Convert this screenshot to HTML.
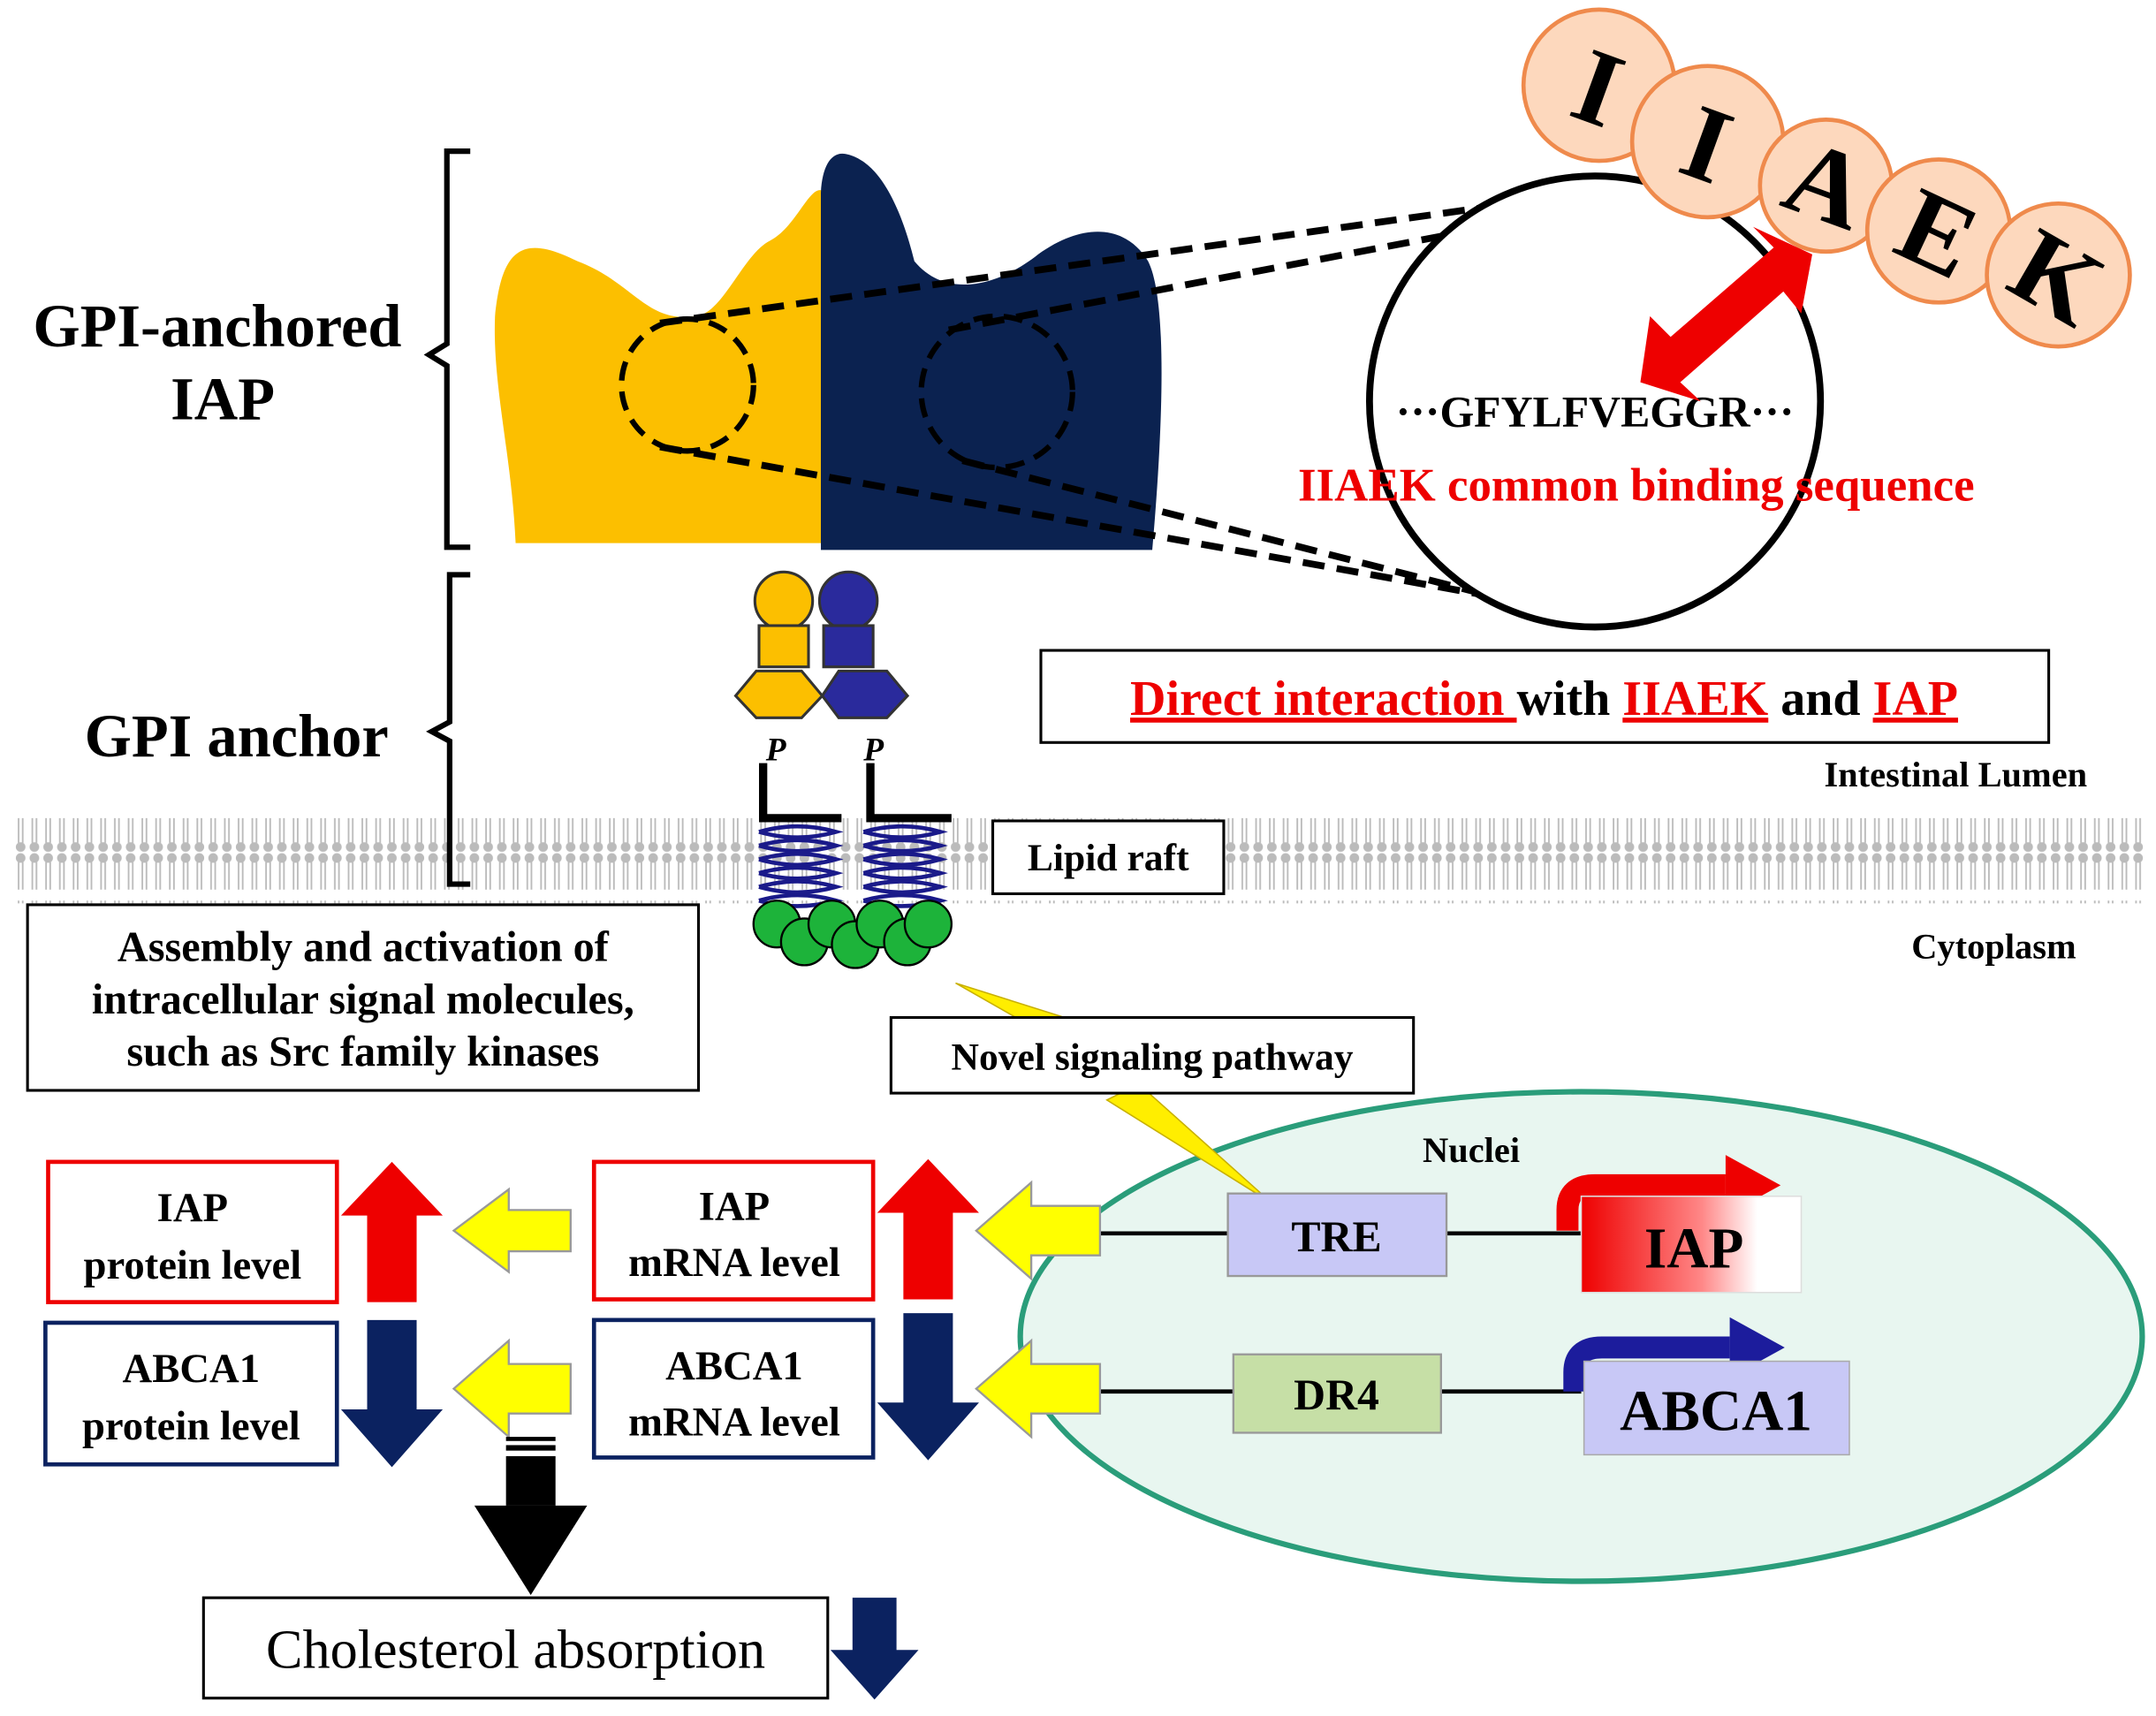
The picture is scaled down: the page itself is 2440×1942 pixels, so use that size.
<!DOCTYPE html>
<html><head><meta charset="utf-8"><style>
html,body{margin:0;padding:0;background:#fff}
svg{display:block}
text{font-family:"Liberation Serif",serif;font-weight:bold}
</style></head><body>
<svg width="2440" height="1942" viewBox="0 0 1568 1248" xmlns="http://www.w3.org/2000/svg">
<defs>
<linearGradient id="rg" x1="0" x2="1"><stop offset="0" stop-color="#e00"/><stop offset="0.55" stop-color="#f88"/><stop offset="0.8" stop-color="#fff"/></linearGradient>
<pattern id="lip" width="10" height="62" patternUnits="userSpaceOnUse">
<circle cx="5" cy="4" r="3.5" fill="#bbb"/><line x1="3.5" y1="7" x2="3.5" y2="27" stroke="#bbb" stroke-width="1.2"/><line x1="6.5" y1="7" x2="6.5" y2="27" stroke="#bbb" stroke-width="1.2"/>
<circle cx="5" cy="58" r="3.5" fill="#bbb"/><line x1="3.5" y1="35" x2="3.5" y2="55" stroke="#bbb" stroke-width="1.2"/><line x1="6.5" y1="35" x2="6.5" y2="55" stroke="#bbb" stroke-width="1.2"/>
</pattern>
</defs>
<rect width="1568" height="1248" fill="#fff"/>

<rect x="10" y="595" width="1550" height="62" fill="url(#lip)"/>

<path d="M342 110 H325 V250 L312 258 L325 266 V398 H342" fill="none" stroke="#000" stroke-width="4"/>
<path d="M342 418 H327 V525 L314 532 L327 539 V643 H342" fill="none" stroke="#000" stroke-width="4"/>
<text x="158" y="252" font-size="44" text-anchor="middle">GPI-anchored</text>
<text x="162" y="305" font-size="44" text-anchor="middle">IAP</text>
<text x="172" y="550" font-size="44" text-anchor="middle">GPI anchor</text>

<path d="M600 395 L600 140 C590 130 580 165 560 175 C540 185 525 230 505 230 C470 235 460 205 420 190 C380 170 365 180 360 230 C358 280 372 330 375 395 Z" fill="#fcbf00"/>
<path d="M597 400 L597 140 C598 120 605 110 615 112 C630 115 650 130 665 190 C690 220 730 205 755 185 C790 160 820 165 835 190 C850 220 845 320 838 400 Z" fill="#0b2250"/>
<circle cx="500" cy="280" r="48" fill="none" stroke="#000" stroke-width="4" stroke-dasharray="14 8"/>
<circle cx="725" cy="285" r="55" fill="none" stroke="#000" stroke-width="4" stroke-dasharray="14 8"/>
<g stroke="#000" stroke-width="5" stroke-dasharray="16 9" fill="none">
<line x1="480" y1="235" x2="1100" y2="148"/><line x1="690" y1="240" x2="1110" y2="160"/>
<line x1="480" y1="325" x2="1120" y2="440"/><line x1="700" y1="335" x2="1130" y2="445"/>
</g>
<circle cx="1160" cy="292" r="164" fill="#fff" stroke="#000" stroke-width="5"/>
<text x="1160" y="310" font-size="32" text-anchor="middle" font-family="Liberation Sans,sans-serif">···GFYLFVEGGR···</text>
<text x="1190" y="364" font-size="34" fill="#e00" text-anchor="middle">IIAEK common binding sequence</text>
<g fill="#e00">
<polygon points="1193,278 1200,230 1215,245 1290,180 1275,165 1318,185 1310,228 1297,212 1222,278 1237,292"/>
</g>

<g fill="#fdd8bd" stroke="#ef8a4c" stroke-width="3">
<circle cx="1163" cy="62" r="55"/><circle cx="1242" cy="103" r="55"/><circle cx="1328" cy="135" r="48"/><circle cx="1410" cy="168" r="52"/><circle cx="1497" cy="200" r="52"/>
</g>
<g font-size="78" text-anchor="middle">
<text x="1163" y="90" transform="rotate(20 1163 62)">I</text>
<text x="1242" y="131" transform="rotate(20 1242 103)">I</text>
<text x="1328" y="160" transform="rotate(20 1328 135)">A</text>
<text x="1410" y="196" transform="rotate(25 1410 168)">E</text>
<text x="1497" y="228" transform="rotate(30 1497 200)">K</text>
</g>

<rect x="757" y="473" width="733" height="67" fill="#fff" stroke="#000" stroke-width="2"/>
<text x="1123" y="520" font-size="36" text-anchor="middle"><tspan fill="#e00" text-decoration="underline">Direct interaction </tspan>with <tspan fill="#e00" text-decoration="underline">IIAEK</tspan> and <tspan fill="#e00" text-decoration="underline">IAP</tspan></text>
<text x="1518" y="572" font-size="26" text-anchor="end">Intestinal Lumen</text>
<text x="1510" y="697" font-size="26" text-anchor="end">Cytoplasm</text>

<g stroke="#333" stroke-width="2">
<circle cx="570" cy="437" r="21" fill="#fcbf00"/><rect x="552" y="455" width="36" height="30" fill="#fcbf00"/>
<polygon points="550,488 583,488 598,506 583,522 550,522 535,506" fill="#fcbf00"/>
<circle cx="617" cy="437" r="21" fill="#2a2a9c"/><rect x="599" y="455" width="36" height="30" fill="#2a2a9c"/>
<polygon points="610,488 645,488 660,506 645,522 610,522 598,506" fill="#2a2a9c"/>
</g>
<text x="557" y="553" font-size="24" font-style="italic" font-weight="normal">P</text>
<text x="628" y="553" font-size="24" font-style="italic" font-weight="normal">P</text>
<path d="M555 555 V595 H612 M633 555 V595 H692" fill="none" stroke="#000" stroke-width="6"/>
<g fill="none" stroke="#1a1a8a" stroke-width="3">
<path d="M552 605 q28 -8 56 0 q-28 8 -56 0 m0 10 q28 -8 56 0 q-28 8 -56 0 m0 10 q28 -8 56 0 q-28 8 -56 0 m0 10 q28 -8 56 0 q-28 8 -56 0 m0 10 q28 -8 56 0 q-28 8 -56 0 m0 10 q28 -8 56 0 q-28 8 -56 0"/>
<path d="M628 605 q28 -8 56 0 q-28 8 -56 0 m0 10 q28 -8 56 0 q-28 8 -56 0 m0 10 q28 -8 56 0 q-28 8 -56 0 m0 10 q28 -8 56 0 q-28 8 -56 0 m0 10 q28 -8 56 0 q-28 8 -56 0 m0 10 q28 -8 56 0 q-28 8 -56 0"/>
</g>
<g fill="#1db33a" stroke="#000" stroke-width="1.5">
<circle cx="565" cy="672" r="17"/><circle cx="585" cy="685" r="17"/><circle cx="605" cy="672" r="17"/><circle cx="622" cy="687" r="17"/><circle cx="640" cy="672" r="17"/><circle cx="660" cy="685" r="17"/><circle cx="675" cy="672" r="17"/>
</g>
<rect x="722" y="597" width="168" height="53" fill="#fff" stroke="#000" stroke-width="2"/>
<text x="806" y="633" font-size="28" text-anchor="middle">Lipid raft</text>

<rect x="20" y="658" width="488" height="135" fill="#fff" stroke="#000" stroke-width="2"/>
<g font-size="31" text-anchor="middle">
<text x="264" y="699">Assembly and activation of</text>
<text x="264" y="737">intracellular signal molecules,</text>
<text x="264" y="775">such as Src family kinases</text>
</g>

<ellipse cx="1150" cy="972" rx="408" ry="178" fill="#e8f6f0" stroke="#2a9d7a" stroke-width="4"/>
<text x="1070" y="845" font-size="26" text-anchor="middle">Nuclei</text>

<polygon points="695,715 790,745 775,755 850,780 830,790 925,875 805,800 825,790 745,760 760,752" fill="#ffee00" stroke="#c8b000" stroke-width="1"/>
<rect x="648" y="740" width="380" height="55" fill="#fff" stroke="#000" stroke-width="2"/>
<text x="838" y="778" font-size="28" text-anchor="middle">Novel signaling pathway</text>

<g stroke="#000" stroke-width="3">
<line x1="800" y1="897" x2="1150" y2="897"/><line x1="800" y1="1012" x2="1150" y2="1012"/>
</g>
<rect x="893" y="868" width="159" height="60" fill="#c8c8f6" stroke="#999" stroke-width="1.5"/>
<text x="972" y="910" font-size="32" text-anchor="middle">TRE</text>
<rect x="897" y="985" width="151" height="57" fill="#c6dfa6" stroke="#999" stroke-width="1.5"/>
<text x="972" y="1025" font-size="32" text-anchor="middle">DR4</text>

<path d="M1140 895 V880 Q1140 862 1160 862 H1255" fill="none" stroke="#e00" stroke-width="16"/>
<polygon points="1255,840 1295,862 1255,884" fill="#e00"/>
<rect x="1150" y="870" width="160" height="70" fill="url(#rg)" stroke="#ddd"/>
<text x="1232" y="922" font-size="42" text-anchor="middle">IAP</text>
<path d="M1145 1012 V998 Q1145 980 1165 980 H1258" fill="none" stroke="#1c1c9c" stroke-width="16"/>
<polygon points="1258,958 1298,980 1258,1002" fill="#1c1c9c"/>
<rect x="1152" y="990" width="193" height="68" fill="#c8c8f6" stroke="#aaa"/>
<text x="1248" y="1040" font-size="42" text-anchor="middle">ABCA1</text>

<g fill="#ffff00" stroke="#999" stroke-width="1.5">
<polygon points="710,895 750,860 750,877 800,877 800,913 750,913 750,930"/>
<polygon points="710,1010 750,975 750,992 800,992 800,1028 750,1028 750,1045"/>
<polygon points="330,895 370,865 370,880 415,880 415,910 370,910 370,925"/>
<polygon points="330,1010 370,975 370,992 415,992 415,1028 370,1028 370,1045"/>
</g>
<g fill="#ee0000">
<polygon points="675,843 712,882 693,882 693,945 657,945 657,882 638,882"/>
<polygon points="285,845 322,884 303,884 303,947 267,947 267,884 248,884"/>
</g>
<g fill="#0b2260">
<polygon points="657,955 693,955 693,1020 712,1020 675,1062 638,1020 657,1020"/>
<polygon points="267,960 303,960 303,1025 322,1025 285,1067 248,1025 267,1025"/>
</g>

<g font-size="30" text-anchor="middle">
<rect x="35" y="845" width="210" height="102" fill="#fff" stroke="#e00" stroke-width="3"/>
<text x="140" y="888">IAP</text><text x="140" y="930">protein level</text>
<rect x="33" y="962" width="212" height="103" fill="#fff" stroke="#0b2260" stroke-width="3"/>
<text x="139" y="1005">ABCA1</text><text x="139" y="1047">protein level</text>
<rect x="432" y="845" width="203" height="100" fill="#fff" stroke="#e00" stroke-width="3"/>
<text x="534" y="887">IAP</text><text x="534" y="928">mRNA level</text>
<rect x="432" y="960" width="203" height="100" fill="#fff" stroke="#0b2260" stroke-width="3"/>
<text x="534" y="1003">ABCA1</text><text x="534" y="1044">mRNA level</text>
</g>

<g fill="#000">
<rect x="368" y="1045" width="36" height="3"/><rect x="368" y="1051" width="36" height="4"/><rect x="368" y="1059" width="36" height="36"/>
<polygon points="345,1095 427,1095 386,1160"/>
</g>
<rect x="148" y="1162" width="454" height="73" fill="#fff" stroke="#000" stroke-width="2"/>
<text x="375" y="1213" font-size="40" text-anchor="middle" style="font-weight:normal">Cholesterol absorption</text>
<polygon points="620,1162 652,1162 652,1200 668,1200 636,1236 604,1200 620,1200" fill="#0b2260"/>
</svg>
</body></html>
